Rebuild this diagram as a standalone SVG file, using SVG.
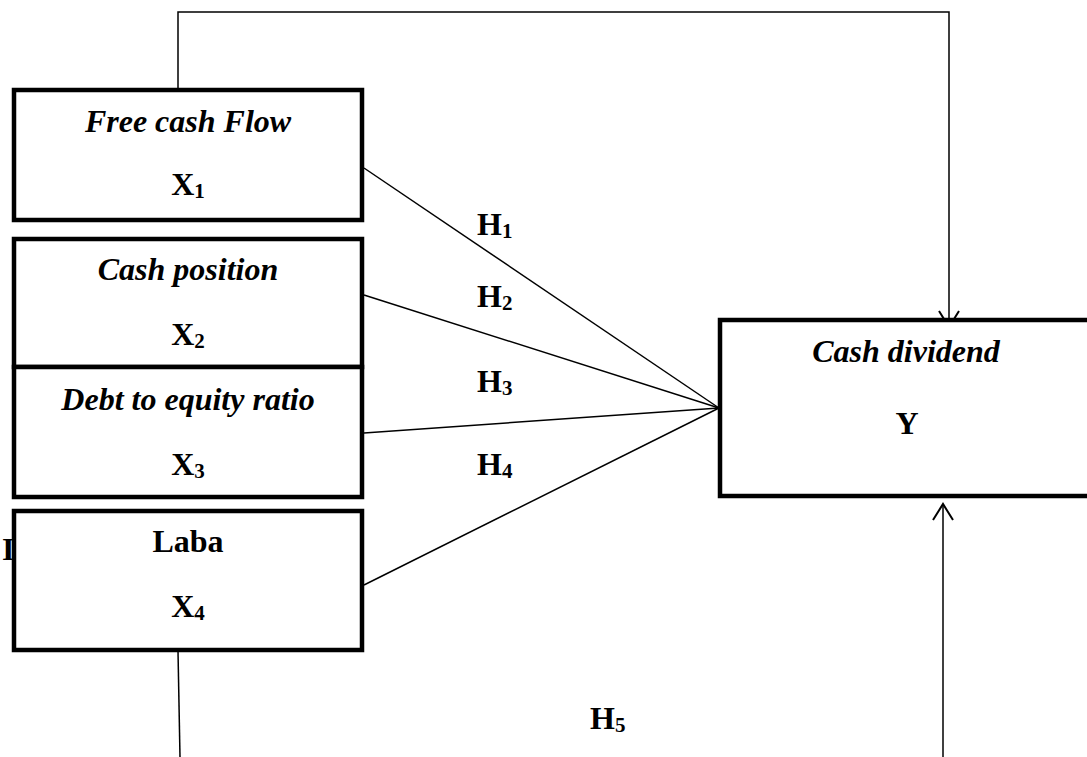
<svg xmlns="http://www.w3.org/2000/svg" width="1087" height="757" viewBox="0 0 1087 757">
<style>
.box{fill:#fff;stroke:#000;stroke-width:4.5}
.ln{fill:none;stroke:#000;stroke-width:1.5}
.ah{fill:none;stroke:#000;stroke-width:2}
.nm{font-family:"Liberation Serif",serif;font-style:italic;font-weight:bold;font-size:32px;text-anchor:middle}
.vb{font-family:"Liberation Serif",serif;font-weight:bold;font-size:32px;text-anchor:middle}
.h{font-family:"Liberation Serif",serif;font-weight:bold;font-size:32px}
.sub{font-size:21px}
</style>
<rect width="1087" height="757" fill="#fff"/>
<text x="2" y="560" class="h">I</text>
<g id="connectors">
<polyline class="ln" points="178,90 178,12 949,12 949,326"/>
<polyline class="ah" points="939,311 949,327 959,311"/>
<line class="ln" x1="178" y1="651" x2="180" y2="757"/>
<line class="ln" x1="943" y1="757" x2="943" y2="505"/>
<polyline class="ah" points="933,520 943,504 953,520"/>
<line class="ln" x1="364" y1="168" x2="719" y2="408"/>
<line class="ln" x1="364" y1="295" x2="719" y2="408"/>
<line class="ln" x1="364" y1="433" x2="719" y2="408"/>
<line class="ln" x1="364" y1="585" x2="719" y2="408"/>
<line class="ln" x1="715" y1="408" x2="728" y2="408"/>
</g>
<g id="n1"><rect class="box" x="14" y="90" width="348" height="130"/>
<text x="188" y="132" class="nm">Free cash Flow</text>
<text x="188" y="195" class="vb">X<tspan class="sub" dy="3">1</tspan></text></g>
<g id="n2"><rect class="box" x="14" y="239" width="348" height="128"/>
<text x="188" y="280" class="nm">Cash position</text>
<text x="188" y="345" class="vb">X<tspan class="sub" dy="3">2</tspan></text></g>
<g id="n3"><rect class="box" x="14" y="367" width="348" height="130"/>
<text x="188" y="410" class="nm">Debt to equity ratio</text>
<text x="188" y="475" class="vb">X<tspan class="sub" dy="3">3</tspan></text></g>
<g id="n4"><rect class="box" x="14" y="511" width="348" height="139"/>
<text x="188" y="552" class="vb">Laba</text>
<text x="188" y="617" class="vb">X<tspan class="sub" dy="3">4</tspan></text></g>
<g id="ny"><rect class="box" x="720" y="320" width="380" height="176"/>
<text x="906" y="362" class="nm">Cash dividend</text>
<text x="907" y="434" class="vb">Y</text></g>
<g id="labels">
<text x="477" y="235" class="h">H<tspan class="sub" dy="3">1</tspan></text>
<text x="477" y="307" class="h">H<tspan class="sub" dy="3">2</tspan></text>
<text x="477" y="392" class="h">H<tspan class="sub" dy="3">3</tspan></text>
<text x="477" y="475" class="h">H<tspan class="sub" dy="3">4</tspan></text>
<text x="590" y="729" class="h">H<tspan class="sub" dy="3">5</tspan></text>
</g>
</svg>
